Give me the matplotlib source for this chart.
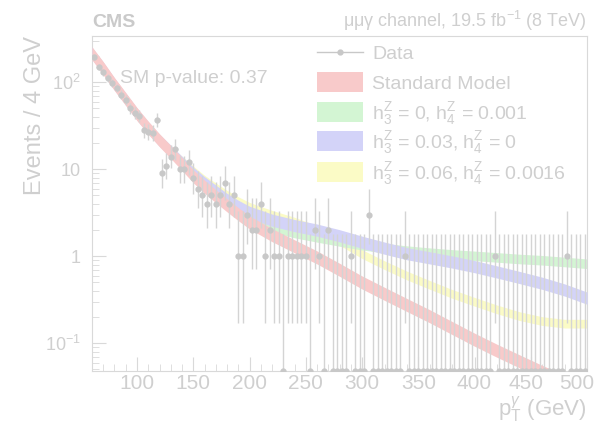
import numpy as np
import matplotlib
matplotlib.use("Agg")
import matplotlib.pyplot as plt
from matplotlib.patches import Rectangle
from matplotlib.lines import Line2D
from matplotlib.transforms import ScaledTranslation
from matplotlib.ticker import FixedLocator, NullFormatter, LogLocator

plt.rcParams['font.family'] = ['Liberation Sans', 'DejaVu Sans']
plt.rcParams['mathtext.fontset'] = 'custom'
plt.rcParams['mathtext.rm'] = 'Liberation Sans'
plt.rcParams['mathtext.it'] = 'Liberation Sans:italic'

# === Data ===
# bin centres (4 GeV bins from 60 to 500) and observed counts
bin_centers = np.arange(62, 500, 4)
counts = [195, 150, 130, 112, 98, 86, 72, 63, 50, 44,
          41, 28, 27, 26, 37, 9, 11, 14, 17, 10,
          10, 12, 8, 6, 5, 4, 5, 4, 5, 7,
          4, 5, 1, 1, 3, 2, 2, 4, 1, 2,
          1, 1, 0, 1, 1, 1, 1, 1, 0, 2,
          1, 0, 2, 0, 0, 0, 0, 1, 0, 0,
          0, 3, 0, 0, 0, 0, 0, 0, 0, 1,
          0, 0, 0, 0, 0, 0, 0, 0, 0, 0,
          0, 0, 0, 0, 0, 0, 0, 0, 0, 1,
          0, 0, 0, 0, 0, 0, 0, 0, 0, 0,
          0, 0, 0, 0, 0, 1, 0, 0, 0, 0]

# model predictions
pt_grid = [60, 70, 80, 90, 100, 110, 120, 130, 140, 150, 160, 170, 180, 190, 200,
           220, 240, 260, 280, 300, 320, 340, 360, 380, 400, 420, 440, 460, 480, 500]
sm = [215, 145, 95, 64, 43, 30, 21.5, 15.8, 11.5, 8.3, 6.3, 4.9, 3.85, 3.05, 2.45,
      1.75, 1.3, 0.97, 0.7, 0.5, 0.37, 0.275, 0.205, 0.15, 0.11, 0.082, 0.062, 0.047, 0.036, 0.027]
h4_only = [215, 145, 95, 64, 43, 30, 21.5, 16.0, 11.8, 8.7, 6.7, 5.3, 4.2, 3.4, 2.8,
           2.15, 1.85, 1.65, 1.48, 1.34, 1.24, 1.16, 1.1, 1.05, 1.01, 0.97, 0.93, 0.9, 0.86, 0.82]
h3_only = [215, 145, 95, 64, 43, 30, 21.5, 16.1, 12.0, 9.0, 7.0, 5.6, 4.5, 3.75, 3.2,
           2.6, 2.25, 2.0, 1.72, 1.45, 1.24, 1.07, 0.96, 0.86, 0.76, 0.66, 0.57, 0.49, 0.41, 0.33]
h3_h4 = [215, 145, 95, 64, 43, 30, 21.5, 16.4, 12.6, 9.7, 7.6, 6.2, 5.1, 4.3, 3.7,
         3.0, 2.5, 2.0, 1.5, 1.06, 0.79, 0.6, 0.47, 0.37, 0.3, 0.245, 0.205, 0.18, 0.168, 0.168]

labels = ["Standard Model",
          r"$\mathrm{h_3^Z}$ = 0, $\mathrm{h_4^Z}$ = 0.001",
          r"$\mathrm{h_3^Z}$ = 0.03, $\mathrm{h_4^Z}$ = 0",
          r"$\mathrm{h_3^Z}$ = 0.06, $\mathrm{h_4^Z}$ = 0.0016"]
xtick_vals = [100, 150, 200, 250, 300, 350, 400, 450, 500]
ytick_vals = [0.1, 1, 10, 100]
ytick_labels = [r"$10^{-1}$", "1", "10", r"$10^{2}$"]

# === Style ===
txt = '#cfcfcf'
frame = '#d9d9d9'
col_data, col_err = '#c8c8c8', '#d4d4d4'
col_sm, col_g, col_b, col_y = '#f8caca', '#d3f5d3', '#d3d3f8', '#fbfbc6'

fig = plt.figure(figsize=(6.05, 4.25), dpi=100)
ax = fig.add_axes([92 / 605, 54 / 425, 495 / 605, 335 / 425])
ax.set_yscale('log')

# bands (half width in decades)
pt = np.array(pt_grid)
for vals, col, hw, z in [(h3_h4, col_y, 0.05, 1), (h4_only, col_g, 0.055, 2),
                         (h3_only, col_b, 0.07, 3), (sm, col_sm, 0.075, 4)]:
    v = np.array(vals)
    ax.fill_between(pt, v / 10 ** hw, v * 10 ** hw, color=col, lw=0, zorder=z)

# data with Poisson (Garwood, Wilson-Hilferty) errors
n = np.array(counts, dtype=float)
ymin, ymax = 0.048, 340
n1 = np.maximum(n, 1)
lo = np.where(n > 0, n1 * (1 - 1 / (9 * n1) - 1 / (3 * np.sqrt(n1))) ** 3, 1e-4)
up = (n + 1) * (1 - 1 / (9 * (n + 1)) + 1 / (3 * np.sqrt(n + 1))) ** 3
yplot = np.where(n > 0, n, ymin)
ax.errorbar(bin_centers, yplot, yerr=[yplot - lo, up - yplot], xerr=2,
            fmt='o', color=col_data, ecolor=col_err, ms=3.5, elinewidth=1,
            capsize=0, zorder=5)

ax.set_xlim(60, 500)
ax.set_ylim(ymin, ymax)

# ticks
ax.xaxis.set_major_locator(FixedLocator(xtick_vals))
ax.xaxis.set_minor_locator(FixedLocator(np.arange(60, 501, 10)))
ax.yaxis.set_major_locator(FixedLocator(ytick_vals))
ax.set_yticklabels(ytick_labels)
ax.yaxis.set_minor_locator(LogLocator(base=10, subs=np.arange(2, 10)))
ax.yaxis.set_minor_formatter(NullFormatter())
ax.tick_params(which='both', direction='in', colors=frame, labelcolor=txt)
ax.tick_params(axis='x', which='major', length=10, labelsize=15, pad=2.5)
ax.tick_params(axis='x', which='minor', length=5)
ax.tick_params(axis='y', which='major', length=10, labelsize=13, pad=8)
ax.tick_params(axis='y', which='minor', length=5)
for s in ax.spines.values():
    s.set_color(frame)

# last x labels sit a little to the left, as in the original
fig.canvas.draw()
for lab, dx in zip(ax.get_xticklabels()[-2:], [-5, -10]):
    lab.set_transform(lab.get_transform() + ScaledTranslation(dx / 100, 0, fig.dpi_scale_trans))

ax.set_ylabel("Events / 4 GeV", fontsize=17, color=txt, loc='top')
ax.yaxis.set_label_coords(-0.093, 1.0)
ax.set_xlabel(r"p$_\mathrm{T}^\gamma$ (GeV)", fontsize=16, color=txt, loc='right')
ax.xaxis.set_label_coords(1.0, -0.072)

ax.text(0, 1.027, "CMS", transform=ax.transAxes, fontsize=14, fontweight='bold',
        color='#cacaca', ha='left', va='baseline')
ax.text(1.0, 1.027, r"μμγ channel, 19.5 fb$^{-1}$ (8 TeV)", transform=ax.transAxes,
        fontsize=13, color=txt, ha='right', va='baseline')
ax.text(0.057, 0.86, "SM p-value: 0.37", transform=ax.transAxes, fontsize=14,
        color=txt, ha='left', va='baseline')

# legend drawn by hand so rows keep an even spacing
row_px = [52, 82, 112, 141, 172]
x0, x1, xt = 225 / 495, 271 / 495, 280 / 495
yc = [(371 - r) / 335 for r in row_px]
ax.add_line(Line2D([x0, x1], [yc[0], yc[0]], color=col_data, lw=1,
                   transform=ax.transAxes, zorder=6))
ax.add_line(Line2D([(x0 + x1) / 2], [yc[0]], color=col_data, marker='o', ms=3.5,
                   transform=ax.transAxes, zorder=6))
ax.text(xt, (371 - row_px[0] - 7) / 335, "Data", transform=ax.transAxes, fontsize=14,
        color=txt, ha='left', va='baseline')
for r, lab, col in zip(row_px[1:], labels, [col_sm, col_g, col_b, col_y]):
    ax.add_patch(Rectangle((x0, (371 - r - 10) / 335), x1 - x0, 20 / 335,
                           transform=ax.transAxes, color=col, lw=0, zorder=6))
    ax.text(xt, (371 - r - 7) / 335, lab, transform=ax.transAxes, fontsize=14,
            color=txt, ha='left', va='baseline', zorder=7)

plt.savefig("out.png", dpi=100)
plt.close()
